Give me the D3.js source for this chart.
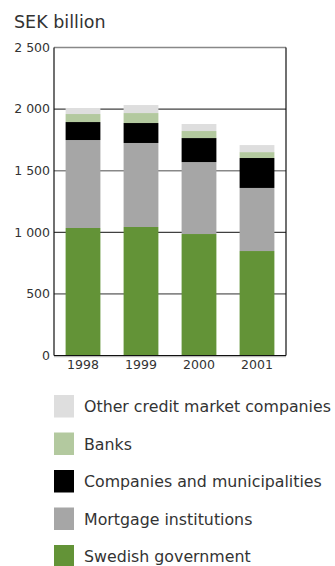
<!DOCTYPE html>
<html>
<head>
<meta charset="utf-8">
<script src="https://cdn.jsdelivr.net/npm/d3@7"></script>
<style>
    body { margin: 0; background: #fff; }
    text { font-family: "DejaVu Sans", sans-serif; fill: #333; }
</style>
</head>
<body>
<div id="chart"></div>
<script>
var years = ["1998", "1999", "2000", "2001"];
var government = [1035, 1043, 986, 848];
var mortgage = [714, 682, 584, 512];
var companies = [146, 162, 195, 243];
var banks = [65, 81, 57, 48];
var otherCredit = [49, 65, 57, 57];
var yTicks = [0, 500, 1000, 1500, 2000, 2500];

var seriesNames = ["Swedish government", "Mortgage institutions", "Companies and municipalities", "Banks", "Other credit market companies"];
var seriesColors = ["#639337", "#a6a6a6", "#000000", "#b3c99f", "#dedede"];
var seriesValues = [government, mortgage, companies, banks, otherCredit];

var svgWidth = 335;
var svgHeight = 566;
var margin = { top: 47.5, left: 54, right: 49, bottom: 210.5 };
var width = svgWidth - margin.left - margin.right;
var height = svgHeight - margin.top - margin.bottom;

var svg = d3.select("#chart")
    .append("svg")
    .attr("width", svgWidth)
    .attr("height", svgHeight);

// title
svg.append("text")
    .attr("x", 14)
    .attr("y", 28)
    .attr("font-size", 17.5)
    .text("SEK billion");

var chart = svg.append("g")
    .attr("transform", "translate(" + margin.left + "," + margin.top + ")");

var x = d3.scaleBand()
    .domain(years)
    .range([0, width])
    .paddingInner(0.4)
    .paddingOuter(0.2);

var y = d3.scaleLinear()
    .domain([0, 2500])
    .range([height, 0]);

// gridlines
chart.selectAll(".grid")
    .data(yTicks.slice(1))
    .enter()
    .append("line")
    .attr("x1", 0)
    .attr("x2", width)
    .attr("y1", function (d) { return y(d); })
    .attr("y2", function (d) { return y(d); })
    .attr("stroke", function (d) { return d % 1000 === 500 ? "#888" : "#111"; })
    .attr("stroke-width", function (d) { return d % 1000 === 500 ? 1.6 : 1; });

// stacked bars
var table = years.map(function (yr, i) {
    var row = { year: yr };
    seriesNames.forEach(function (name, s) { row[name] = seriesValues[s][i]; });
    return row;
});
var stacked = d3.stack().keys(seriesNames)(table);

chart.selectAll(".layer")
    .data(stacked)
    .enter()
    .append("g")
    .attr("fill", function (d, i) { return seriesColors[i]; })
    .selectAll("rect")
    .data(function (d) { return d; })
    .enter()
    .append("rect")
    .attr("x", function (d) { return x(d.data.year); })
    .attr("width", x.bandwidth())
    .attr("y", function (d) { return y(d[1]); })
    .attr("height", function (d) { return y(d[0]) - y(d[1]); });

// frame: left, right
chart.append("line")
    .attr("x1", 0).attr("x2", 0)
    .attr("y1", y(2500)).attr("y2", height)
    .attr("stroke", "#111").attr("stroke-width", 1.2);
chart.append("line")
    .attr("x1", width).attr("x2", width)
    .attr("y1", y(2500)).attr("y2", height)
    .attr("stroke", "#111").attr("stroke-width", 1.2);
// base line
chart.append("line")
    .attr("x1", 0).attr("x2", width)
    .attr("y1", height + 1).attr("y2", height + 1)
    .attr("stroke", "#bbb").attr("stroke-width", 1.5);
chart.append("line")
    .attr("x1", 0).attr("x2", width)
    .attr("y1", height).attr("y2", height)
    .attr("stroke", "#111").attr("stroke-width", 1);

// y tick labels
var fmt = function (d) { return d3.format(",")(d).replace(",", " "); };
chart.selectAll(".ytick")
    .data(yTicks)
    .enter()
    .append("text")
    .attr("x", -4)
    .attr("y", function (d) { return y(d); })
    .attr("dy", "0.35em")
    .attr("text-anchor", "end")
    .attr("font-size", 12.5)
    .text(fmt);

// x labels
chart.selectAll(".xtick")
    .data(years)
    .enter()
    .append("text")
    .attr("x", function (d) { return x(d) + x.bandwidth() / 2; })
    .attr("y", height + 13)
    .attr("text-anchor", "middle")
    .attr("font-size", 12.5)
    .text(function (d) { return d; });

// legend (reverse order, top = last series)
var legend = svg.append("g");
var legendItems = seriesNames.slice().reverse();
var legendColors = seriesColors.slice().reverse();
legendItems.forEach(function (name, i) {
    var top = 395 + i * 37.5;
    legend.append("rect")
        .attr("x", 54)
        .attr("y", top)
        .attr("width", 20)
        .attr("height", 22.5)
        .attr("fill", legendColors[i]);
    legend.append("text")
        .attr("x", 84)
        .attr("y", top + 17)
        .attr("font-size", 15.8)
        .attr("fill", "#222")
        .text(name);
});
</script>
</body>
</html>
